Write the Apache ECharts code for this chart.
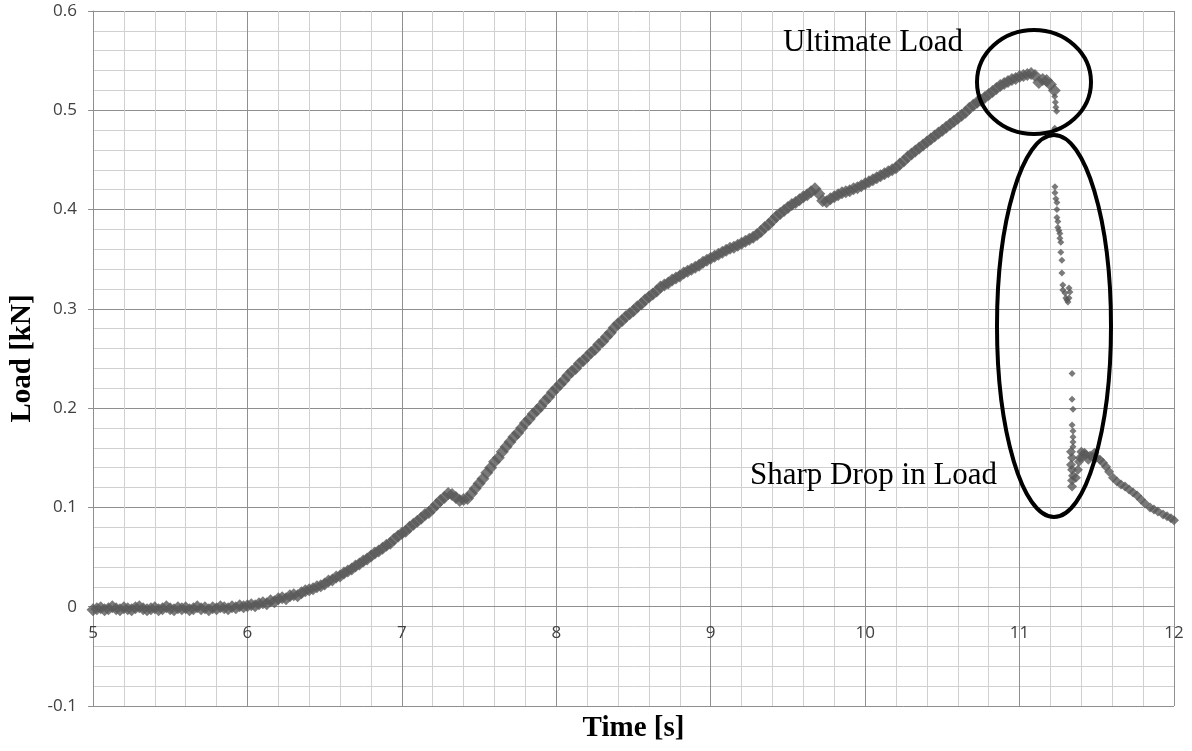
<!DOCTYPE html>
<html>
<head>
<meta charset="utf-8">
<script src="https://cdn.jsdelivr.net/npm/echarts@6/dist/echarts.min.js"></script>
<style>html,body{margin:0;padding:0;background:#fff}#chart{width:1192px;height:751px}</style>
</head>
<body>
<div id="chart"></div>
<script>
// ---- data ----
const timeStart = 5;      // s, first sample of the main record
const timeStep = 0.025;   // s, sampling step of the main record
const loadMain = [
  -0.003,-0.002,-0.001,-0.003,-0.002,0.000,-0.002,-0.003,-0.001,-0.002,-0.003,-0.001,0.000,-0.002,-0.003,-0.002,-0.001,-0.003,-0.002,0.000,
  -0.002,-0.003,-0.001,-0.002,-0.001,-0.003,-0.002,0.000,-0.002,-0.001,-0.003,-0.001,-0.002,0.000,-0.001,-0.002,0.000,-0.001,0.001,0.000,
  0.001,0.002,0.001,0.003,0.004,0.003,0.006,0.005,0.008,0.009,0.008,0.011,0.012,0.011,0.014,0.016,0.017,0.018,0.020,0.021,
  0.023,0.026,0.027,0.030,0.031,0.034,0.036,0.038,0.041,0.043,0.046,0.048,0.051,0.054,0.056,0.059,0.062,0.064,0.068,0.071,
  0.074,0.076,0.080,0.083,0.086,0.089,0.093,0.095,0.099,0.103,0.107,0.110,0.114,0.113,0.110,0.107,0.108,0.109,0.114,0.119,
  0.124,0.129,0.135,0.140,0.146,0.150,0.156,0.161,0.166,0.171,0.175,0.180,0.185,0.189,0.194,0.198,0.202,0.207,0.211,0.216,
  0.220,0.224,0.228,0.233,0.237,0.240,0.245,0.248,0.252,0.256,0.259,0.264,0.267,0.272,0.276,0.281,0.285,0.288,0.292,0.295,
  0.298,0.302,0.305,0.309,0.312,0.315,0.318,0.322,0.324,0.326,0.329,0.331,0.333,0.336,0.338,0.340,0.342,0.344,0.347,0.349,
  0.351,0.353,0.355,0.357,0.359,0.361,0.362,0.364,0.366,0.368,0.370,0.372,0.375,0.378,0.382,0.385,0.389,0.393,0.396,0.399,
  0.402,0.405,0.407,0.410,0.413,0.415,0.418,0.421,0.416,0.409,0.408,0.411,0.413,0.415,0.417,0.418,0.419,0.421,0.422,0.424,
  0.426,0.428,0.430,0.432,0.434,0.436,0.438,0.440,0.442,0.446,0.449,0.453,0.456,0.459,0.462,0.465,0.468,0.471,0.474,0.477,
  0.480,0.483,0.486,0.489,0.492,0.495,0.498,0.502,0.505,0.508,0.510,0.513,0.516,0.519,0.522,0.525,0.527,0.529,0.531,0.532,
  0.534,0.535,0.536,0.537,0.535,0.528,0.531,0.530,0.526,0.520
];
// sparse points during the sharp drop: [time s, load kN]
const dropPoints = [
  [11.228,0.514],[11.232,0.508],[11.235,0.503],[11.240,0.499],[11.228,0.482],
  [11.229,0.423],[11.229,0.417],[11.235,0.411],[11.242,0.407],[11.242,0.400],[11.242,0.392],
  [11.248,0.388],[11.248,0.382],[11.255,0.379],[11.261,0.376],[11.261,0.371],[11.267,0.367],
  [11.267,0.357],[11.274,0.349],[11.274,0.336],[11.280,0.324],[11.280,0.319],[11.294,0.316],
  [11.300,0.311],[11.307,0.309],[11.313,0.307],[11.320,0.311],[11.326,0.317],[11.320,0.321],
  [11.340,0.235],[11.340,0.209],[11.346,0.199],[11.340,0.183],[11.346,0.177],[11.346,0.171],
  [11.346,0.166],[11.346,0.161]
];
// residual load after the drop: [time s, load kN]
const tailPoints = [
  [11.333,0.156],[11.340,0.150],[11.333,0.143],[11.340,0.138],[11.346,0.132],[11.340,0.127],
  [11.340,0.121],[11.365,0.130],[11.378,0.138],[11.385,0.146],[11.391,0.150],[11.400,0.156],
  [11.411,0.151],[11.420,0.155],[11.430,0.153],[11.445,0.148],[11.456,0.152],[11.475,0.151],
  [11.485,0.155],[11.500,0.150],[11.521,0.148],[11.540,0.145],[11.560,0.141],[11.580,0.136],
  [11.605,0.130],[11.631,0.126],[11.657,0.123],[11.683,0.121],[11.709,0.118],[11.735,0.115],
  [11.761,0.112],[11.786,0.108],[11.812,0.104],[11.845,0.100],[11.870,0.098],[11.896,0.096],
  [11.929,0.093],[11.955,0.091],[11.980,0.089],[12.000,0.087]
];
const xAxisTitle = 'Time [s]';
const yAxisTitle = 'Load [kN]';
const noteUltimate = 'Ultimate Load';
const noteDrop = 'Sharp Drop in Load';

// ---- chart ----
const mainPoints = loadMain.map((v, i) => [timeStart + i * timeStep, v]);
const markColor = '#595959';
const majorGrid = '#8f8f8f';
const minorGrid = '#d0d0d0';
const tickFont = { fontFamily: 'Open Sans', fontSize: 17, color: '#404040' };
const serif = '"Liberation Serif", "Times New Roman", serif';
const yMin = -0.1, yMax = 0.6;
const gridTop = 11, gridBottom = 45, chartH = 751;
const gridH = chartH - gridTop - gridBottom;
// the x axis crosses the y axis at load = 0
const xAxisOffset = -gridH * (0 - yMin) / (yMax - yMin);

const chart = echarts.init(document.getElementById('chart'), null, { renderer: 'canvas' });
chart.setOption({
  animation: false,
  backgroundColor: '#ffffff',
  grid: { left: 93, right: 18, top: gridTop, bottom: gridBottom, containLabel: false, outerBoundsMode: 'none' },
  xAxis: {
    type: 'value', min: 5, max: 12, interval: 1, position: 'bottom', offset: xAxisOffset,
    axisLine: { onZero: false, lineStyle: { color: majorGrid, width: 1 } },
    axisTick: { show: false },
    axisLabel: Object.assign({ margin: 18 }, tickFont),
    splitLine: { show: true, lineStyle: { color: majorGrid, width: 1 } },
    minorTick: { show: false, splitNumber: 5 },
    minorSplitLine: { show: true, lineStyle: { color: minorGrid, width: 1 } },
    name: xAxisTitle, nameLocation: 'middle', nameGap: 107,
    nameTextStyle: { fontFamily: serif, fontWeight: 'bold', fontSize: 29, color: '#000' }
  },
  yAxis: {
    type: 'value', min: yMin, max: yMax, interval: 0.1,
    axisLine: { show: true, onZero: false, lineStyle: { color: majorGrid, width: 1 } },
    axisTick: { show: true, inside: false, length: 5, lineStyle: { color: majorGrid } },
    axisLabel: Object.assign({ margin: 16, formatter: v => String(Math.round(v * 10) / 10) }, tickFont),
    splitLine: { show: true, lineStyle: { color: majorGrid, width: 1 } },
    minorTick: { show: false, splitNumber: 5 },
    minorSplitLine: { show: true, lineStyle: { color: minorGrid, width: 1 } },
    name: yAxisTitle, nameLocation: 'middle', nameGap: 54,
    nameTextStyle: { fontFamily: serif, fontWeight: 'bold', fontSize: 29, color: '#000' }
  },
  series: [
    { type: 'scatter', data: mainPoints, symbol: 'diamond', symbolSize: 13,
      itemStyle: { color: markColor }, z: 3 },
    { type: 'scatter', data: dropPoints, symbol: 'diamond', symbolSize: 7,
      itemStyle: { color: markColor }, z: 3 },
    { type: 'scatter', data: tailPoints, symbol: 'diamond', symbolSize: 10,
      itemStyle: { color: markColor }, z: 3 }
  ],
  graphic: [
    { type: 'ellipse', z: 100, silent: true,
      shape: { cx: 1034, cy: 82, rx: 57, ry: 52 },
      style: { fill: 'none', stroke: '#000', lineWidth: 4 } },
    { type: 'ellipse', z: 100, silent: true,
      shape: { cx: 1054, cy: 326, rx: 57, ry: 191 },
      style: { fill: 'none', stroke: '#000', lineWidth: 4 } },
    { type: 'text', z: 100, silent: true, x: 783, y: 43,
      style: { text: noteUltimate, font: '31px ' + serif, fill: '#000',
               textAlign: 'left', textVerticalAlign: 'middle' } },
    { type: 'text', z: 100, silent: true, x: 750, y: 476,
      style: { text: noteDrop, font: '31px ' + serif, fill: '#000',
               textAlign: 'left', textVerticalAlign: 'middle' } }
  ]
});
</script>
</body>
</html>
